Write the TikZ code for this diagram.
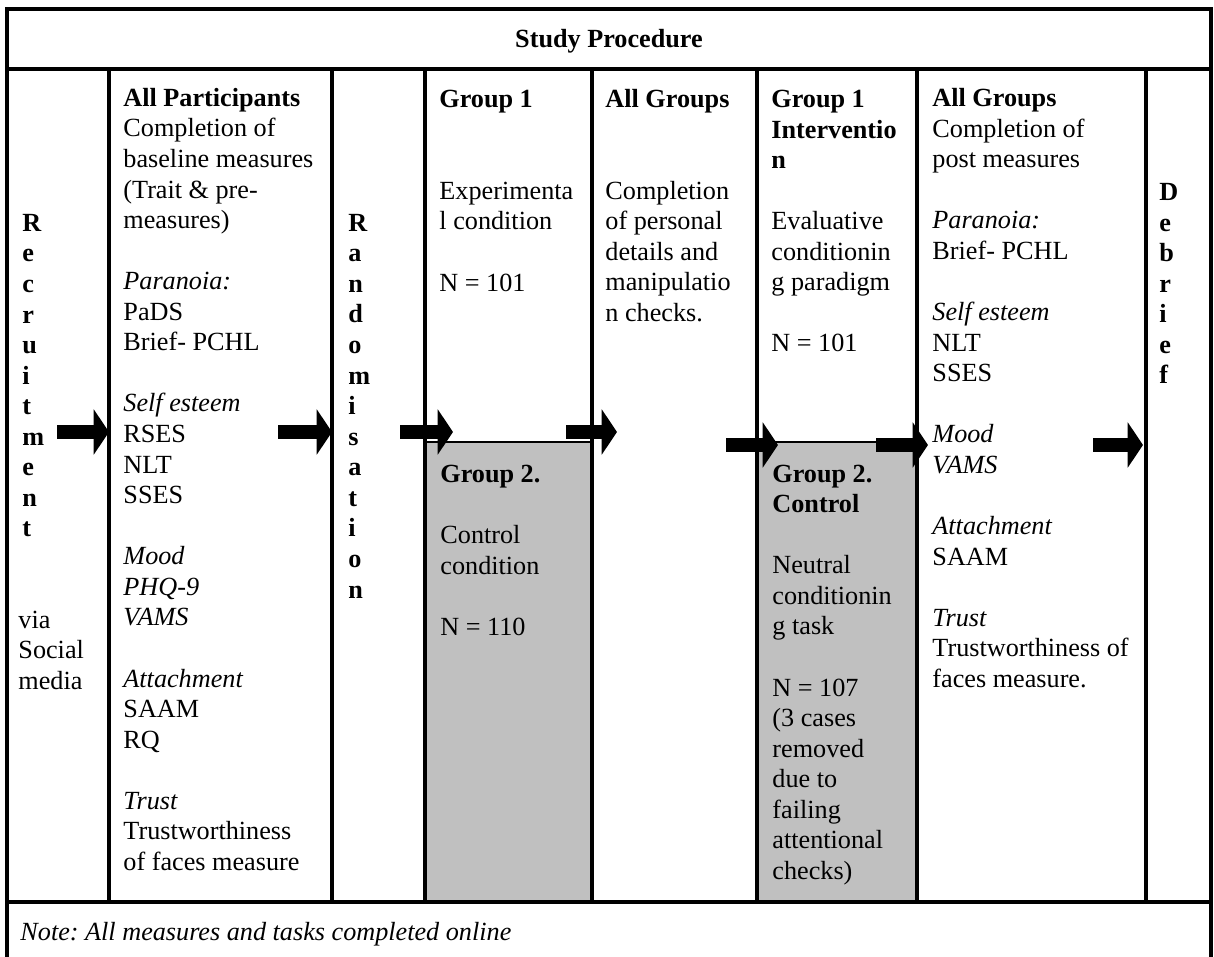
\documentclass[tikz,border=0pt]{standalone}
\usepackage{fontspec}
\setmainfont{Liberation Serif}
\usetikzlibrary{arrows.meta}
\definecolor{shadegrey}{RGB}{192,192,192}
\frenchspacing
\tikzset{
  cell/.style={anchor=base west, align=left, inner sep=0pt, font=\fontsize{12}{14}\selectfont},
  vert/.style={cell, font=\fontsize{12}{14}\selectfont\bfseries},
  rule/.style={line width=1.5pt},
  shadebox/.style={draw, fill=shadegrey, line width=1pt},
  blockarrow/.style={line width=6.8pt, -{Triangle[length=7pt,width=20.5pt]}}
}

\begin{document}
\begin{tikzpicture}[x=0.458pt,y=-0.458pt]
\useasboundingbox (0,0) rectangle (1214,957);

\path[shadebox] (425,442) rectangle (592,902);
\path[shadebox] (757,442) rectangle (917,902);

\draw[rule] (7,957) -- (7,9) -- (1211,9) -- (1211,957);
\draw[rule] (7,69) -- (1211,69);
\draw[rule] (7,902) -- (1211,902);
\foreach \x in {109,332,425,592,757,917,1146}
  \draw[rule] (\x,69) -- (\x,902);

\node[font=\fontsize{12}{14}\selectfont\bfseries, anchor=base, inner sep=0pt] (title) at (609,48) {Study Procedure};

\node[vert] (recruit) at (22,537) {R\\e\\c\\r\\u\\i\\t\\m\\e\\n\\t};
\node[cell] (via) at (18,689.5) {via\\Social\\media};

\node[cell] (baseline) at (123,870.5) {\textbf{All Participants}\\
Completion of\\
baseline measures\\
(Trait \& pre-\\
measures)\\[14pt]
\textit{Paranoia:}\\
PaDS\\
Brief- PCHL\\[14pt]
\textit{Self esteem}\\
RSES\\
NLT\\
SSES\\[14pt]
\textit{Mood}\\
\textit{PHQ-9}\\
\textit{VAMS}\\[14pt]
\textit{Attachment}\\
SAAM\\
RQ\\[14pt]
\textit{Trust}\\
Trustworthiness\\
of faces measure};

\node[vert] (random) at (348,598) {R\\a\\n\\d\\o\\m\\i\\s\\a\\t\\i\\o\\n};

\node[cell] (group1) at (439,291) {\textbf{Group 1}\\[28pt]
Experimenta\\
l condition\\[14pt]
N = 101};
\node[cell] (group2) at (440,635.5) {\textbf{Group 2.}\\[14pt]
Control\\
condition\\[14pt]
N = 110};

\node[cell] (details) at (605,321.5) {\textbf{All Groups}\\[28pt]
Completion\\
of personal\\
details and\\
manipulatio\\
n checks.};

\node[cell] (interv) at (771,352) {\textbf{Group 1}\\
\textbf{Interventio}\\
\textbf{n}\\[14pt]
Evaluative\\
conditionin\\
g paradigm\\[14pt]
N = 101};
\node[cell] (control) at (772,879.5) {\textbf{Group 2.}\\
\textbf{Control}\\[14pt]
Neutral\\
conditionin\\
g task\\[14pt]
N = 107\\
(3 cases\\
removed\\
due to\\
failing\\
attentional\\
checks)};

\node[cell] (post) at (932,687.5) {\textbf{All Groups}\\
Completion of\\
post measures\\[14pt]
\textit{Paranoia:}\\
Brief- PCHL\\[14pt]
\textit{Self esteem}\\
NLT\\
SSES\\[14pt]
\textit{Mood}\\
\textit{VAMS}\\[14pt]
\textit{Attachment}\\
SAAM\\[14pt]
\textit{Trust}\\
Trustworthiness of\\
faces measure.};

\node[vert] (debrief) at (1159,384) {D\\e\\b\\r\\i\\e\\f};

\node[cell, font=\fontsize{12}{14}\selectfont\itshape] (note) at (20,940) {Note: All measures and tasks completed online};

\coordinate (s1) at (57,432);   \coordinate (t1) at (109,432);
\coordinate (s2) at (278,432);  \coordinate (t2) at (332,432);
\coordinate (s3) at (400,432);  \coordinate (t3) at (453,432);
\coordinate (s4) at (566,432);  \coordinate (t4) at (617,432);
\coordinate (s5) at (726,445);  \coordinate (t5) at (778,445);
\coordinate (s6) at (876,445);  \coordinate (t6) at (928,445);
\coordinate (s7) at (1093,445); \coordinate (t7) at (1143,445);

\path[draw,blockarrow] (s1) -- (t1);
\path[draw,blockarrow] (s2) -- (t2);
\path[draw,blockarrow] (s3) -- (t3);
\path[draw,blockarrow] (s4) -- (t4);
\path[draw,blockarrow] (s5) -- (t5);
\path[draw,blockarrow] (s6) -- (t6);
\path[draw,blockarrow] (s7) -- (t7);
\end{tikzpicture}
\end{document}
